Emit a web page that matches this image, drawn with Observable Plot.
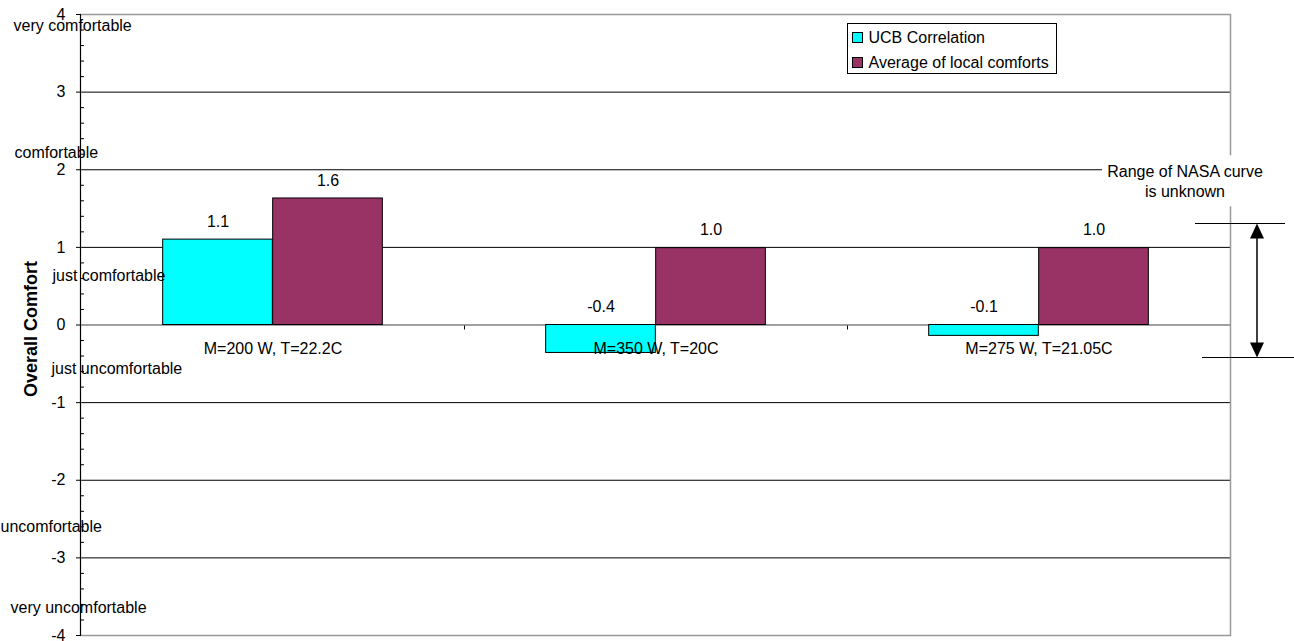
<!DOCTYPE html>
<html>
<head>
<meta charset="utf-8">
<script src="https://cdn.jsdelivr.net/npm/d3@7"></script>
<script src="https://cdn.jsdelivr.net/npm/@observablehq/plot@0.6"></script>
<style>
  html, body { margin: 0; padding: 0; background: #fff; }
  #chart { width: 1294px; height: 641px; }
</style>
</head>
<body>
<div id="chart"></div>
<script>
// ---------------- data ----------------
const categories = ["M=200 W, T=22.2C", "M=350 W, T=20C", "M=275 W, T=21.05C"];
const seriesNames = ["UCB Correlation", "Average of local comforts"];
const ucbValues = [1.10, -0.36, -0.14];
const avgValues = [1.63, 0.99, 0.99];
const yTicks = [-4, -3, -2, -1, 0, 1, 2, 3, 4];
const gridValues = [-3, -2, -1, 1, 2, 3];
const comfortLabels = ["very comfortable", "comfortable", "just comfortable", "just uncomfortable", "uncomfortable", "very uncomfortable"];
const comfortLevels = [3.85, 2.22, 0.63, -0.56, -2.6, -3.64];
const nasaRange = [1.31, -0.42];
const nasaNote = ["Range of NASA curve", "is unknown"];
const yTitle = "Overall Comfort";

// ---------------- layout / style ----------------
const W = 1294, H = 641;
const M = {left: 80, right: 64, top: 14, bottom: 6};
const colors = ["#00FFFF", "#993366"];
const font = "'Liberation Sans', Arial, sans-serif";
const comfortLabelX = [13, 14, 52, 51, 0, 10]; // left edge of each label (px)

const bandW = (W - M.left - M.right) / categories.length;
const barW = 110;
const gap = (bandW - 2 * barW) / 2;

const ucbData = categories.map((c, i) => ({cat: c, v: ucbValues[i]}));
const avgData = categories.map((c, i) => ({cat: c, v: avgValues[i]}));
const minorTicks = d3.range(-40, 41, 2).map(d => d / 10).filter(d => !Number.isInteger(d));

const comfortMarks = comfortLabels.map((label, i) =>
  Plot.text([label], {frameAnchor: "left", y: () => comfortLevels[i], text: d => d, textAnchor: "start",
    dx: comfortLabelX[i] - M.left, fontSize: 16, fill: "#000"})
);

function decorations(index, scales, values, dims) {
  const x = scales.x, y = scales.y;
  const left = dims.marginLeft, right = dims.width - dims.marginRight;
  const top = dims.marginTop, bottom = dims.height - dims.marginBottom;
  const g = d3.create("svg:g").attr("font-family", font).attr("font-size", 16);
  const y0 = Math.round(y(0)) + 0.5;
  // category boundary ticks on the zero axis
  categories.slice(1).forEach(c => {
    const px = Math.round(x(c)) + 0.5;
    g.append("line").attr("x1", px).attr("x2", px).attr("y1", y0).attr("y2", y0 + 4).attr("stroke", "#000");
  });
  // left axis line
  g.append("line").attr("x1", left + 0.5).attr("x2", left + 0.5).attr("y1", top).attr("y2", bottom).attr("stroke", "#000");

  // legend
  const lg = g.append("g").attr("transform", `translate(${right - 383 + 0.5},${top + 9 + 0.5})`);
  lg.append("rect").attr("width", 209).attr("height", 50).attr("fill", "#fff").attr("stroke", "#000");
  seriesNames.forEach((s, i) => {
    lg.append("rect").attr("x", 5).attr("y", 9 + i * 25).attr("width", 10).attr("height", 10)
      .attr("fill", colors[i]).attr("stroke", "#000");
    lg.append("text").attr("x", 21).attr("y", 14 + i * 25).attr("dy", "0.35em")
      .attr("text-anchor", "start").attr("fill", "#000").text(s);
  });

  // NASA annotation
  const y2 = y(2);
  g.append("rect").attr("x", right - 128).attr("y", y2 - 14).attr("width", dims.width - right + 128).attr("height", 51).attr("fill", "#fff");
  nasaNote.forEach((t, i) => {
    g.append("text").attr("x", right - 45).attr("y", y2 + 2 + i * 20).attr("text-anchor", "middle")
      .attr("dy", "0.35em").attr("fill", "#000").text(t);
  });
  const ax = right + 27;
  const yt = Math.round(y(nasaRange[0])) + 0.5, yb = Math.round(y(nasaRange[1])) + 0.5;
  g.append("line").attr("x1", right - 35).attr("x2", right + 55).attr("y1", yt).attr("y2", yt).attr("stroke", "#000");
  g.append("line").attr("x1", right - 28).attr("x2", dims.width).attr("y1", yb).attr("y2", yb).attr("stroke", "#000");
  g.append("line").attr("x1", ax).attr("x2", ax).attr("y1", yt + 10).attr("y2", yb - 10).attr("stroke", "#000").attr("stroke-width", 1.5);
  g.append("path").attr("d", `M${ax},${yt}L${ax - 7},${yt + 15}L${ax + 7},${yt + 15}Z`).attr("fill", "#000");
  g.append("path").attr("d", `M${ax},${yb}L${ax - 7},${yb - 15}L${ax + 7},${yb - 15}Z`).attr("fill", "#000");
  return g.node();
}

const chart = Plot.plot({
  width: W,
  height: H,
  marginLeft: M.left,
  marginRight: M.right,
  marginTop: M.top,
  marginBottom: M.bottom,
  style: {fontFamily: font, fontSize: "16px", color: "#000", background: "#fff", overflow: "visible"},
  x: {type: "band", domain: categories, padding: 0, axis: null, label: null},
  y: {domain: [-4, 4], axis: null, label: null},
  marks: [
    Plot.ruleY(gridValues, {stroke: "#000", strokeWidth: 1}),
    Plot.frame({stroke: "#999", strokeWidth: 1.5}),
    Plot.ruleY([0], {stroke: "#808080", strokeWidth: 1.5}),
    Plot.barY(ucbData, {x: "cat", y: "v", fill: colors[0], stroke: "#000", strokeWidth: 1,
      insetLeft: gap, insetRight: gap + barW}),
    Plot.barY(avgData, {x: "cat", y: "v", fill: colors[1], stroke: "#000", strokeWidth: 1,
      insetLeft: gap + barW, insetRight: gap}),
    Plot.text(ucbData, {x: "cat", y: d => Math.max(d.v, 0), text: d => d.v.toFixed(1), dx: -barW / 2, dy: -18, fontSize: 16, fill: "#000"}),
    Plot.text(avgData, {x: "cat", y: d => Math.max(d.v, 0), text: d => d.v.toFixed(1), dx: barW / 2, dy: -18, fontSize: 16, fill: "#000"}),
    Plot.text(categories, {x: d => d, y: () => 0, text: d => d, dy: 24, fontSize: 16, fill: "#000"}),
    Plot.axisY(yTicks, {tickSize: 5, dx: 1, tickPadding: 11, fontSize: 16, tickFormat: d => String(d), stroke: "#000", label: null}),
    Plot.axisY(minorTicks, {tickSize: 4, dx: 4, tickFormat: () => "", stroke: "#000", label: null}),
    ...comfortMarks,
    Plot.text([yTitle], {frameAnchor: "left", textAnchor: "middle", rotate: -90, dx: -49, dy: 4, fontWeight: "bold", fontSize: 18, fill: "#000"}),
    decorations
  ]
});
document.getElementById("chart").appendChild(chart);
</script>
</body>
</html>
